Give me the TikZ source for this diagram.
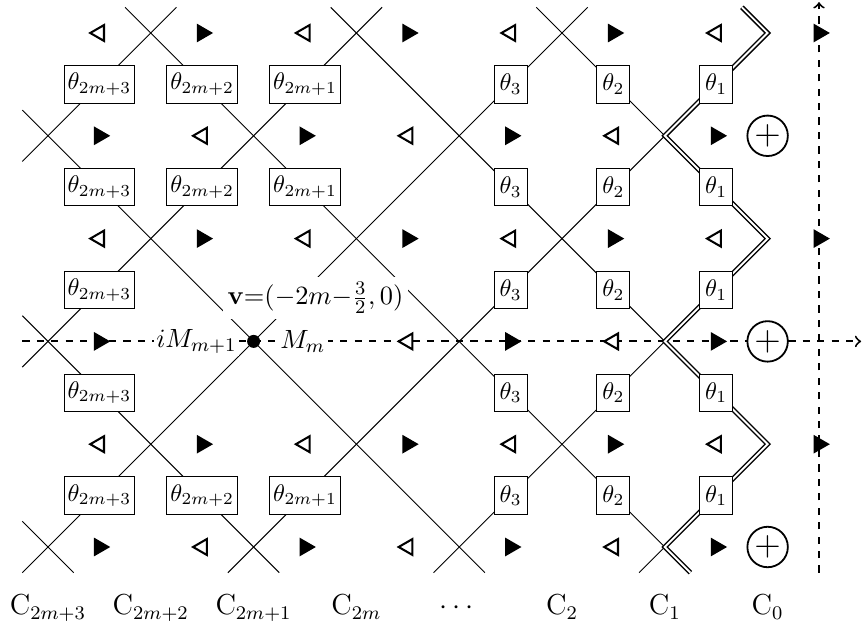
\documentclass[tikz,border=0pt]{standalone}
\usepackage{amsmath}
\usepackage{tikz}
\usetikzlibrary{positioning,shapes.geometric}

\begin{document}
\begin{tikzpicture}[
  x=0.75cm, y=-0.75cm,
  >=to,
  wire/.style={thin},
  dbl/.style={double, line width=0.6pt, double distance=0.8pt},
  dashax/.style={thick, dashed, ->},
  xs/.style={shorten <=-5.3mm},
  xe/.style={shorten >=-5.3mm},
  tbox/.style={draw, fill=white, inner xsep=1.5pt, inner ysep=2.5pt,
    minimum height=15.5pt, minimum width=13.7pt},
  opentri/.style={regular polygon, regular polygon sides=3, shape border rotate=90,
    draw, fill=white, line width=0.85pt, inner sep=0pt, minimum size=7.6pt},
  filltri/.style={regular polygon, regular polygon sides=3, shape border rotate=-90,
    draw, fill=black, line width=0.6pt, inner sep=0pt, minimum size=7.8pt},
  osum/.style={circle, draw, fill=white, line width=0.75pt, inner sep=0pt,
    minimum size=16.8pt, font=\Large},
  lbl/.style={fill=white, inner sep=1pt, font=\fontsize{10.8}{13}\selectfont},
  clabel/.style={anchor=base, font=\large},
]
  \useasboundingbox (-0.934,-0.642) rectangle (15.856,11.615);
  % lattice crossings
  \foreach \i in {0,2,...,14}
    \foreach \j in {0,2,...,10}
      \coordinate (x\i-\j) at (\i,\j);
  % dashed axes
  \coordinate (hw) at (-0.5,6);
  \coordinate (he) at (15.82,6);
  \coordinate (vs) at (15,10.5);
  \coordinate (vn) at (15,-0.6);
  \draw[dashax] (hw) -- (he);
  \draw[dashax] (vs) -- (vn);
  % wires going up to the right
  \draw[wire, xs, xe] (x2-0) -- (x0-2);
  \draw[wire, xs, xe] (x6-0) -- (x0-6);
  \draw[wire, xs, xe] (x10-0) -- (x0-10);
  \draw[wire, xe] (x12-2) -- (x4-10);
  \draw[wire, xe] (x12-6) -- (x8-10);
  \draw[wire] (x12-10) -- ++(-0.5,0.5);
  % wires going down to the right
  \draw[wire, xs] (x10-0) -- (x12-2);
  \draw[wire, xs] (x6-0) -- (x12-6);
  \draw[wire, xs] (x2-0) -- (x12-10);
  \draw[wire, xs, xe] (x0-2) -- (x8-10);
  \draw[wire, xs, xe] (x0-6) -- (x4-10);
  \draw[wire] (x0-10) ++(-0.5,-0.5) -- ++(1,1);
  % doubled zigzag through the theta_1 boxes
  \draw[dbl] (x14-0) ++(-0.5,-0.5) -- (x14-0) -- (x12-2) -- (x14-4)
    -- (x12-6) -- (x14-8) -- (x12-10) -- ++(0.5,0.5);
  % theta boxes
  \foreach \j in {1,3,5,7,9} {
    \node[tbox] (b1-\j) at (1,\j) {$\theta_{2m+3}$};
    \node[tbox] (b9-\j) at (9,\j) {$\theta_3$};
    \node[tbox] (b11-\j) at (11,\j) {$\theta_2$};
    \node[tbox] (b13-\j) at (13,\j) {$\theta_1$};
  }
  \foreach \j in {1,3,9} {
    \node[tbox] (b3-\j) at (3,\j) {$\theta_{2m+2}$};
    \node[tbox] (b5-\j) at (5,\j) {$\theta_{2m+1}$};
  }
  % triangles
  \foreach \j in {0,4,8} {
    \foreach \i in {1,5,9,13} \node[opentri] (t\i-\j) at (\i,\j) {};
    \foreach \i in {3,7,11,15} \node[filltri] (t\i-\j) at (\i,\j) {};
  }
  \foreach \j in {2,10} {
    \foreach \i in {3,7,11} \node[opentri] (t\i-\j) at (\i,\j) {};
    \foreach \i in {1,5,9,13} \node[filltri] (t\i-\j) at (\i,\j) {};
  }
  \foreach \i in {7,11} \node[opentri] (t\i-6) at (\i,6) {};
  \foreach \i in {1,9,13} \node[filltri] (t\i-6) at (\i,6) {};
  \foreach \j in {2,6,10} \node[osum] (s\j) at (14,\j) {$+$};
  % vertex v and its labels
  \node[circle, fill, inner sep=0pt, minimum size=5.4pt] (v) at (x4-6) {};
  \node[lbl, left=3pt of v] (iM) {$iM_{m+1}$};
  \node[lbl, right=7pt of v] (Mm) {$M_m$};
  \node[lbl, inner sep=2pt, anchor=base west] (vl) at (3.39,5.29)
    {$\mathbf{v}{=}(-2m{-}\frac{3}{2},0)$};
  % column names
  \foreach \i/\s in {0/{2m+3},2/{2m+2},4/{2m+1},6/{2m},10/2,12/1,14/0}
    \node[clabel] (c\i) at (\i,11.32) {$\mathrm{C}_{\s}$};
  \node[clabel] (c8) at (8,11.32) {$\cdots$};
\end{tikzpicture}
\end{document}
